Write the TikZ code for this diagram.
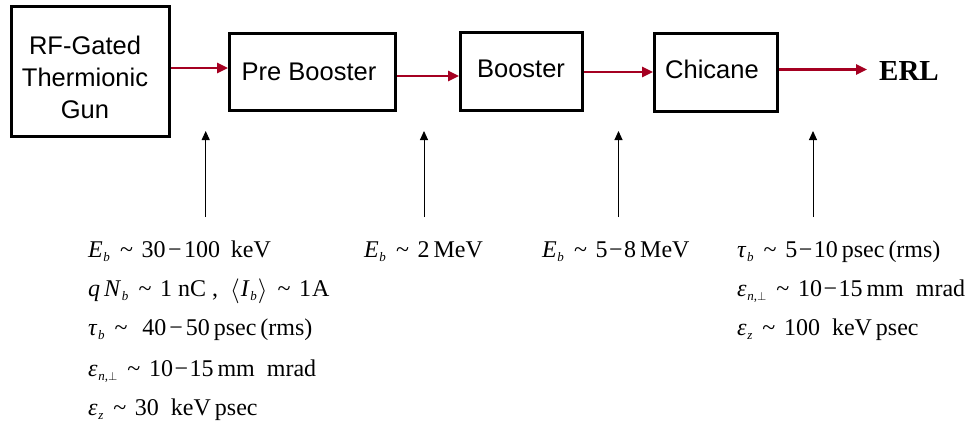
\documentclass[tikz,border=0pt]{standalone}
\usepackage{amsmath}
\usepackage[no-math]{fontspec}
\setmainfont{Liberation Serif}
\newfontfamily\sansfam{Liberation Sans}
\usetikzlibrary{arrows.meta}
\definecolor{beamred}{HTML}{A50021}

% variable with italic subscript
\newcommand{\vsub}[2]{\textit{#1}\kern0.6pt\raisebox{-0.4ex}{\fontsize{13}{13}\selectfont\textit{#2}}}
\newcommand{\emitsub}{\textit{ε}\kern0.6pt\raisebox{-0.4ex}{\fontsize{13}{13}\selectfont\textit{n},$\perp$}}
\newcommand{\approxsim}{\hspace{0.42em}\textasciitilde\hspace{0.36em}}
\newcommand{\mns}[1][1.5pt]{\kern#1−\kern#1}
\newcommand{\bra}[1]{{\fontsize{29}{29}\selectfont\raisebox{-0.1ex}{$#1$}}}

\tikzset{
  blockbox/.style={draw, line width=3pt, inner sep=0pt},
  blocklabel/.style={font=\sansfam\fontsize{25.5}{32}\selectfont, align=center, anchor=base, inner sep=0pt},
  beam/.style={draw=beamred, line width=2.6pt, -{Triangle[length=11pt,width=10pt]}},
  probe/.style={draw, line width=1pt, -{Triangle[length=9pt,width=8pt]}},
  param/.style={font=\fontsize{24}{24}\selectfont, anchor=base west, inner sep=0pt}
}

\begin{document}
\begin{tikzpicture}[x=1pt,y=-1pt]
\useasboundingbox (0,0) rectangle (972,431);

% accelerator stages
\node[blockbox, minimum width=158pt, minimum height=130pt] (gun) at (90.5,71.5) {};
\node[blockbox, minimum width=166pt, minimum height=77pt] (pre) at (312.5,72) {};
\node[blockbox, minimum width=122pt, minimum height=78pt] (boost) at (521.5,71.5) {};
\node[blockbox, minimum width=123pt, minimum height=78pt] (chic) at (716,72.5) {};

% the base anchor of a multi-line label sits on its last line
\node[blocklabel] (gunlbl) at (85,118) {RF-Gated\\Thermionic\\Gun};
\node[blocklabel] (prelbl) at (309,80) {Pre Booster};
\node[blocklabel] (boostlbl) at (521,77.5) {Booster};
\node[blocklabel] (chiclbl) at (712,78) {Chicane};
\node[font=\bfseries\fontsize{29}{29}\selectfont, anchor=base west, inner sep=0pt] (erl) at (879,80.5) {ERL};

% beam line
\draw[beam] (gun.east |- 0,68) -- (pre.west |- 0,68);
\draw[beam] (pre.east |- 0,76) -- (boost.west |- 0,76);
\draw[beam] (boost.east |- 0,72) -- (chic.west |- 0,72);
\draw[beam, shorten >=12pt] (chic.east |- 0,69.5) -- (erl.west |- 0,69.5);

% parameter pointers
\coordinate (p1b) at (205.7,217); \coordinate (p1t) at (205.7,131);
\coordinate (p2b) at (424,217);   \coordinate (p2t) at (424,131);
\coordinate (p3b) at (618.5,217); \coordinate (p3t) at (618.5,131);
\coordinate (p4b) at (813,217);   \coordinate (p4t) at (813,131);
\draw[probe] (p1b) -- (p1t);
\draw[probe] (p2b) -- (p2t);
\draw[probe] (p3b) -- (p3t);
\draw[probe] (p4b) -- (p4t);

% beam parameters after the gun
\node[param] (g1) at (88,257.5) {\vsub{E}{b}\approxsim 30\mns[2.5pt]100\hspace{0.45em}keV};
\node[param] (g2) at (88,296) {\textit{q}\,\vsub{N}{b}\approxsim 1\ nC\ ,\ \ \bra{\langle}\kern1pt\vsub{I}{b}\kern1pt\bra{\rangle}\approxsim 1\kern1ptA};
\node[param] (g3) at (88,335) {\vsub{τ}{b}\approxsim\ 40\mns[3pt]50\,psec\,(rms)};
\node[param] (g4) at (88,376.5) {\emitsub\approxsim 10\mns15\,mm\ \ mrad};
\node[param] (g5) at (88,415) {\vsub{ε}{z}\approxsim 30\ \ keV\,psec};

% after the pre booster and the booster
\node[param] (b1) at (364,257.5) {\vsub{E}{b}\approxsim 2\,MeV};
\node[param] (c1) at (542,257.5) {\vsub{E}{b}\approxsim 5\mns8\,MeV};

% after the chicane
\node[param] (e1) at (737,257.5) {\vsub{τ}{b}\approxsim 5\mns10\,psec\,(rms)};
\node[param] (e2) at (737,296) {\emitsub\approxsim 10\mns15\,mm\ \ mrad};
\node[param] (e3) at (737,335) {\vsub{ε}{z}\approxsim 100\ \ keV\,psec};
\end{tikzpicture}
\end{document}
